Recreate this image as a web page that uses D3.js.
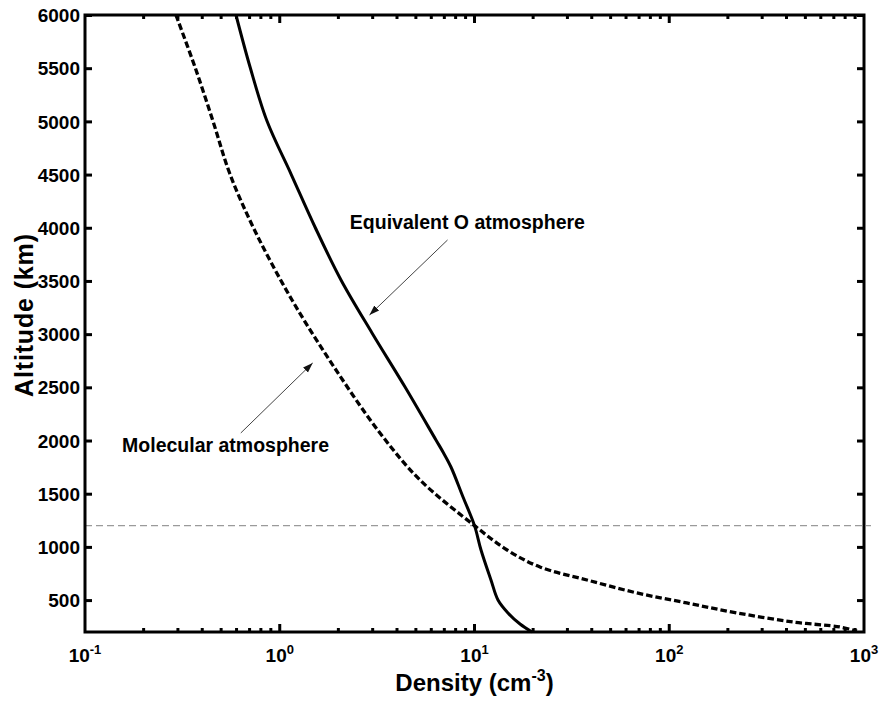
<!DOCTYPE html>
<html>
<head>
<meta charset="utf-8">
<script src="https://cdn.jsdelivr.net/npm/d3@7"></script>
<style>
  html, body { margin: 0; padding: 0; background: #fff; }
  svg { display: block; }
  text { font-family: "Liberation Sans", Arial, sans-serif; font-weight: bold; fill: #000; }
</style>
</head>
<body>
<svg id="chart" width="880" height="702"></svg>
<script>
// ---- data ----
// Equivalent O atmosphere (solid): density (cm^-3) and altitude (km)
const equivDensity  = [0.596, 0.704, 0.860, 1.143, 1.517, 2.063, 2.977, 4.40, 6.34, 6.89, 7.57, 8.73, 10.0, 10.8, 12.15, 13.2, 14.86, 17.13, 19.74];
const equivAltitude = [6000, 5511, 5003, 4505, 4007, 3509, 3011, 2503, 2005, 1892, 1751, 1469, 1200, 971, 689, 501, 379, 275, 200];
// Molecular atmosphere (dashed)
const molDensity  = [0.293, 0.367, 0.454, 0.555, 0.755, 1.156, 1.90, 3.27, 5.25, 10.0, 14.7, 21.7, 37.8, 68.3, 123, 223, 432, 753, 920];
const molAltitude = [6000, 5511, 5003, 4505, 3951, 3321, 2691, 2071, 1629, 1200, 971, 811, 689, 567, 473, 379, 294, 247, 209];
// reference altitude line (km)
const refAltitude = [1200];
// axes
const xDomain = [0.1, 1000];
const yDomain = [200, 6000];
const xMajorExponents = [-1, 0, 1, 2, 3];
const yTickValues = [500, 1000, 1500, 2000, 2500, 3000, 3500, 4000, 4500, 5000, 5500, 6000];
const xTitle = "Density (cm";
const xTitleSup = "-3";
const yTitle = "Altitude (km)";
// annotations: label, text anchor (density, altitude), arrow tail, arrow tip
const annoLabels   = ["Equivalent O atmosphere", "Molecular atmosphere"];
const annoTextPos  = [[2.29, 3990], [0.155, 1890]];
const annoTail     = [[7.27, 3885], [0.631, 2071]];
const annoTip      = [[2.89, 3180], [1.476, 2729]];

// ---- layout ----
const svg = d3.select("#chart");
const L = 85, R = 864, T = 15, B = 632;
const x = d3.scaleLog().domain(xDomain).range([L, R]);
const y = d3.scaleLinear().domain(yDomain).range([B, T]);

// reference dashed gray line (extends slightly past right axis)
svg.selectAll("line.ref").data(refAltitude).enter().append("line")
  .attr("class", "ref")
  .attr("x1", L).attr("x2", 871)
  .attr("y1", d => y(d)).attr("y2", d => y(d))
  .attr("stroke", "#9a9a9a").attr("stroke-width", 1.2)
  .attr("stroke-dasharray", "7,4");

// curves
const line = d3.line().x(d => x(d[0])).y(d => y(d[1])).curve(d3.curveCatmullRom.alpha(0.5));
const equiv = equivDensity.map((d, i) => [d, equivAltitude[i]]);
const mol = molDensity.map((d, i) => [d, molAltitude[i]]);

svg.append("path").datum(equiv)
  .attr("d", line).attr("fill", "none")
  .attr("stroke", "#000").attr("stroke-width", 3).attr("stroke-linejoin", "round");
svg.append("path").datum(mol)
  .attr("d", line).attr("fill", "none")
  .attr("stroke", "#000").attr("stroke-width", 3.3)
  .attr("stroke-dasharray", "6.5,3");

// axes box
const axisW = 3;
svg.append("rect").attr("x", L).attr("y", T).attr("width", R - L).attr("height", B - T)
  .attr("fill", "none").attr("stroke", "#000").attr("stroke-width", axisW);

// y ticks (left + right, inward) and labels
const yAxisL = d3.axisLeft(y).tickValues(yTickValues).tickSize(-7).tickFormat(d3.format("d"));
const gyl = svg.append("g").attr("transform", `translate(${L},0)`).call(yAxisL);
gyl.select(".domain").remove();
gyl.selectAll("line").attr("stroke", "#000").attr("stroke-width", 3);
gyl.selectAll("text").attr("font-size", 19).attr("font-family", "Liberation Sans, Arial, sans-serif")
  .attr("font-weight", "bold").attr("x", -5).attr("dy", "0.35em");

const yAxisR = d3.axisRight(y).tickValues(yTickValues).tickSize(-7).tickFormat("");
const gyr = svg.append("g").attr("transform", `translate(${R},0)`).call(yAxisR);
gyr.select(".domain").remove();
gyr.selectAll("line").attr("stroke", "#000").attr("stroke-width", 3);

// x ticks: major + minor, bottom and top, inward
const majors = xMajorExponents.map(e => Math.pow(10, e));
const minors = [];
xMajorExponents.slice(0, -1).forEach(e => { for (let k = 2; k <= 9; k++) minors.push(k * Math.pow(10, e)); });

function xTicks(sel, yy, dir) {
  sel.selectAll(null).data(majors.slice(1, -1)).enter().append("line")
    .attr("x1", d => x(d)).attr("x2", d => x(d))
    .attr("y1", yy).attr("y2", yy + dir * 8)
    .attr("stroke", "#000").attr("stroke-width", 3);
  sel.selectAll(null).data(minors).enter().append("line")
    .attr("x1", d => x(d)).attr("x2", d => x(d))
    .attr("y1", yy).attr("y2", yy + dir * 4)
    .attr("stroke", "#000").attr("stroke-width", 3);
}
const gx = svg.append("g");
xTicks(gx, B, -1);
xTicks(gx, T, 1);

// x tick labels "10^e"
const xl = svg.append("g").selectAll("text").data(xMajorExponents).enter().append("text")
  .attr("x", e => x(Math.pow(10, e)))
  .attr("y", 662)
  .attr("text-anchor", "middle")
  .attr("font-size", 19);
xl.append("tspan").text("10");
xl.append("tspan").attr("dy", -8).attr("font-size", 13).text(e => String(e));

// axis titles
const xt = svg.append("text")
  .attr("x", (L + R) / 2).attr("y", 691)
  .attr("text-anchor", "middle").attr("font-size", 24);
xt.append("tspan").text(xTitle);
xt.append("tspan").attr("dy", -10).attr("font-size", 16).text(xTitleSup);
xt.append("tspan").attr("dy", 10).text(")");

svg.append("text")
  .attr("transform", `translate(33,${(T + B) / 2 - 8}) rotate(-90)`)
  .attr("text-anchor", "middle").attr("font-size", 25)
  .attr("textLength", 163).attr("lengthAdjust", "spacing")
  .text(yTitle);

// annotation arrows
svg.append("defs").append("marker")
  .attr("id", "ah").attr("viewBox", "0 0 10 10").attr("refX", 10).attr("refY", 5)
  .attr("markerWidth", 10).attr("markerHeight", 10).attr("markerUnits", "userSpaceOnUse")
  .attr("orient", "auto")
  .append("path").attr("d", "M0,1.5 L10,5 L0,8.5 Z").attr("fill", "#111");

annoLabels.forEach((lab, i) => {
  svg.append("line")
    .attr("x1", x(annoTail[i][0])).attr("y1", y(annoTail[i][1]))
    .attr("x2", x(annoTip[i][0])).attr("y2", y(annoTip[i][1]))
    .attr("stroke", "#444").attr("stroke-width", 1)
    .attr("marker-end", "url(#ah)");
  svg.append("text")
    .attr("x", x(annoTextPos[i][0])).attr("y", y(annoTextPos[i][1]))
    .attr("font-size", 19.5)
    .text(lab);
});
</script>
</body>
</html>
